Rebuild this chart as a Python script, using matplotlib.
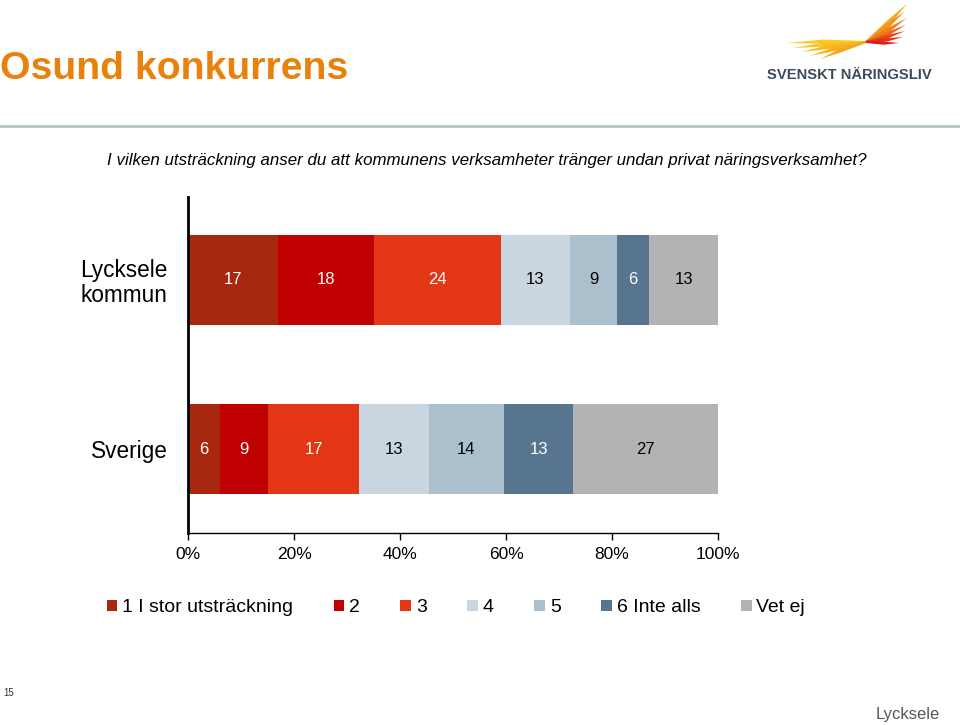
import matplotlib

matplotlib.use("Agg")
import matplotlib.pyplot as plt
from matplotlib.lines import Line2D
from matplotlib.patches import Patch, Polygon

plt.rcParams["font.family"] = ["Liberation Sans", "DejaVu Sans"]

# Data
categories = ["Lycksele\nkommun", "Sverige"]
series_names = ["1 I stor utsträckning", "2", "3", "4", "5", "6 Inte alls", "Vet ej"]
values = {
    "Lycksele\nkommun": [17, 18, 24, 13, 9, 6, 13],
    "Sverige": [6, 9, 17, 13, 14, 13, 27],
}
x_ticks = [0, 20, 40, 60, 80, 100]
x_tick_labels = ["0%", "20%", "40%", "60%", "80%", "100%"]

colors = ["#A8280F", "#C00000", "#E33615", "#C9D5DF", "#ABBFCD", "#57758F", "#B3B3B3"]
label_colors = ["white", "white", "white", "black", "black", "white", "black"]

fig = plt.figure(figsize=(9.6, 7.25), dpi=100)

# Header
fig.text(0.0, 1 - 69 / 725, "Osund konkurrens", fontsize=28.3, fontweight="bold",
         color="#E8820C", ha="left", va="center")
fig.add_artist(Line2D([0, 1], [1 - 126 / 725, 1 - 126 / 725], color="#B4C4C9", lw=2))
fig.text(107 / 960, 1 - 160 / 725,
         "I vilken utsträckning anser du att kommunens verksamheter tränger undan privat näringsverksamhet?",
         fontsize=12.2, style="italic", ha="left", va="center")

# Logo
lax = fig.add_axes([780 / 960, 1 - 62 / 725, 155 / 960, 62 / 725])
lax.set_xlim(780, 935)
lax.set_ylim(62, 0)
lax.axis("off")
hub = (866, 42)
feathers = [
    ((787, 43), "#F9CB22", 3.0), ((793, 48), "#F8C220", 3.0), ((801, 52), "#F7B91F", 3.0),
    ((810, 56), "#F6B01F", 2.8), ((820, 59), "#F5A61F", 2.6),
    ((907, 4), "#F6A51F", 3.2), ((905, 11), "#F3931E", 3.0), ((907, 18), "#F0811D", 3.0),
    ((906, 25), "#EC6C1D", 2.8), ((905, 31), "#E6481C", 2.6), ((903, 37), "#E2301B", 2.4),
    ((899, 43), "#DA1F1A", 2.2),
]
for tip, c, hw in feathers:
    dx, dy = tip[0] - hub[0], tip[1] - hub[1]
    n = (dx * dx + dy * dy) ** 0.5
    ux, uy = dx / n, dy / n
    px, py = -uy, ux
    mx, my = hub[0] + dx * 0.55, hub[1] + dy * 0.55
    pts = [
        (hub[0] + px * 1.0, hub[1] + py * 1.0),
        (mx + px * hw, my + py * hw),
        tip,
        (mx - px * hw * 0.4, my - py * hw * 0.4),
        (hub[0] - px * 1.0, hub[1] - py * 1.0),
    ]
    lax.add_patch(Polygon(pts, closed=True, color=c, lw=0))
fig.text(767 / 960, 1 - 75 / 725, "SVENSKT NÄRINGSLIV", fontsize=10.6, fontweight="bold",
         color="#3B4B5E", ha="left", va="center")

# Chart
ax = fig.add_axes([188 / 960, 1 - 533 / 725, 530 / 960, 336 / 725])
y_pos = list(range(len(categories)))
for yi, cat in zip(y_pos, categories):
    vals = values[cat]
    total = sum(vals)
    left = 0.0
    for v, c, tc in zip(vals, colors, label_colors):
        w = v / total * 100
        ax.barh(yi, w, left=left, height=0.533, color=c, lw=0)
        ax.text(left + w / 2, yi, str(v), ha="center", va="center", fontsize=12, color=tc)
        left += w

ax.set_xlim(0, 100)
ax.set_ylim(1.497, -0.491)
ax.set_yticks(y_pos)
ax.set_yticklabels(categories, fontsize=16.3, multialignment="center", linespacing=1.1)
ax.set_xticks(x_ticks)
ax.set_xticklabels(x_tick_labels, fontsize=12.5)
ax.tick_params(axis="y", left=False, pad=11)
ax.tick_params(axis="x", length=5, width=1, pad=5)
for s in ["top", "right"]:
    ax.spines[s].set_visible(False)
ax.spines["left"].set_linewidth(2)
ax.spines["bottom"].set_linewidth(1)

# Legend
handles = [Patch(facecolor=c, edgecolor="none") for c in colors]
fig.legend(handles, series_names, loc="center left", bbox_to_anchor=(89 / 960, 1 - 608 / 725),
           ncol=7, frameon=False, fontsize=14, handlelength=0.55, handleheight=0.55,
           handletextpad=0.25, columnspacing=2.08)

# Footer
fig.text(3 / 960, 1 - 693 / 725, "15", fontsize=7, ha="left", va="center", color="#333333")
fig.text(940 / 960, 1 - 715 / 725, "Lycksele", fontsize=12, ha="right", va="center",
         color="#595959")

fig.savefig("out.png", dpi=100)
